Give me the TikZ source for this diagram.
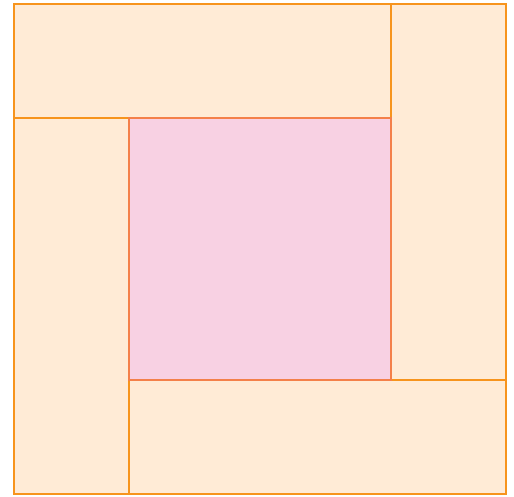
\documentclass[tikz,border=0pt]{standalone}
\begin{document}
\begin{tikzpicture}[x=1pt,y=-1pt]
\definecolor{peach}{HTML}{FFEBD6}
\definecolor{edge}{HTML}{F7941D}
\definecolor{pinkc}{HTML}{F8D1E3}
\definecolor{edgec}{HTML}{F4804A}
\tikzset{side/.style={fill=peach,draw=edge,line width=1.3pt},
         core/.style={fill=pinkc,draw=edgec,line width=1.3pt}}
\useasboundingbox (0,0) rectangle (514,496);
\path[side] (14,4) rectangle (391,118);
\path[side] (391,4) rectangle (506,380);
\path[side] (129,380) rectangle (506,494);
\path[side] (14,118) rectangle (129,494);
\path[core] (129,118) rectangle (391,380);
\end{tikzpicture}
\end{document}
